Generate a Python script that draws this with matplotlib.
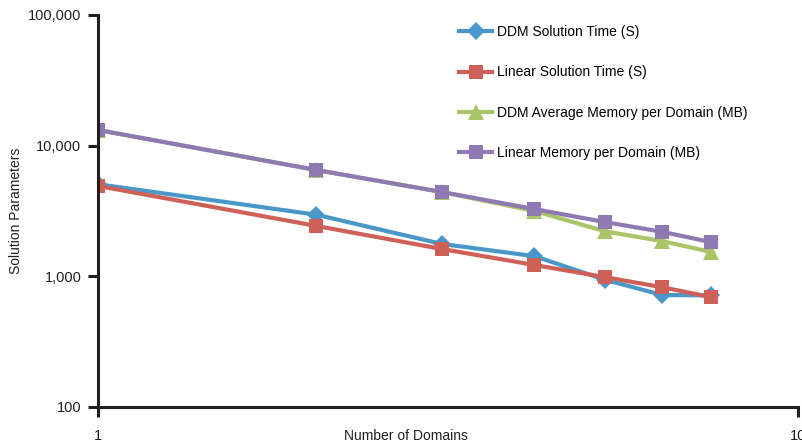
import matplotlib
matplotlib.use("Agg")
from matplotlib import pyplot as plt
from matplotlib.ticker import FuncFormatter, NullLocator

plt.rcParams['font.family'] = ['Liberation Sans', 'DejaVu Sans']

# number of domains
domains = [1, 2.05, 3.1, 4.2, 5.3, 6.4, 7.5]

ddm_time = [5050, 2950, 1760, 1420, 935, 715, 710]
linear_time = [4900, 2420, 1610, 1215, 980, 820, 690]
ddm_memory = [13150, 6490, 4400, 3150, 2200, 1850, 1530]
linear_memory = [13150, 6490, 4400, 3260, 2590, 2180, 1820]

labels = ["DDM Solution Time (S)", "Linear Solution Time (S)",
          "DDM Average Memory per Domain (MB)", "Linear Memory per Domain (MB)"]
colors = ["#4A98C9", "#CE6058", "#AAC468", "#8E79B2"]

fig = plt.figure(figsize=(8.02, 4.43), dpi=100)
ax = fig.add_axes([98/802, 1 - 406.5/443, 700/802, 391.5/443])

ax.plot(domains, ddm_time, color=colors[0], lw=3, marker="D", ms=9, mew=0, label=labels[0])
ax.plot(domains, linear_time, color=colors[1], lw=3, marker="s", ms=10.5, mew=0, label=labels[1])
ax.plot(domains, ddm_memory, color=colors[2], lw=3, marker="^", ms=12, mew=0, label=labels[2])
ax.plot(domains, linear_memory, color=colors[3], lw=3, marker="s", ms=10.5, mew=0, label=labels[3])

ax.set_xscale("log")
ax.set_yscale("log")
ax.set_xlim(1, 10)
ax.set_ylim(100, 100000)
ax.set_xticks([1, 10])
ax.set_xticklabels(["1", "10"])
ax.set_yticks([100, 1000, 10000, 100000])
ax.yaxis.set_major_formatter(FuncFormatter(lambda v, p: "{:,.0f}".format(v)))
ax.xaxis.set_minor_locator(NullLocator())
ax.yaxis.set_minor_locator(NullLocator())

for s in ["top", "right"]:
    ax.spines[s].set_visible(False)
for s in ["left", "bottom"]:
    ax.spines[s].set_linewidth(2.2)
    ax.spines[s].set_color("#231F20")
ax.tick_params(axis="both", width=2.2, length=7, color="#231F20", labelsize=10.5, labelcolor="#231F20")
ax.tick_params(axis="x", pad=9)
ax.tick_params(axis="y", pad=5)

ax.set_xlabel("Number of Domains", fontsize=10, color="#231F20")
ax.xaxis.set_label_coords(0.44, -0.058)
ax.set_ylabel("Solution Parameters", fontsize=10, color="#231F20")
ax.yaxis.set_label_coords(-0.107, 0.5)

ax.legend(loc="upper left", bbox_to_anchor=(459/802, 1 - 25/443), bbox_transform=fig.transFigure,
          frameon=False, fontsize=10, handlelength=2.4, handletextpad=0.3, labelspacing=1.9,
          borderpad=0, borderaxespad=0)

fig.savefig("out.png", dpi=100)
